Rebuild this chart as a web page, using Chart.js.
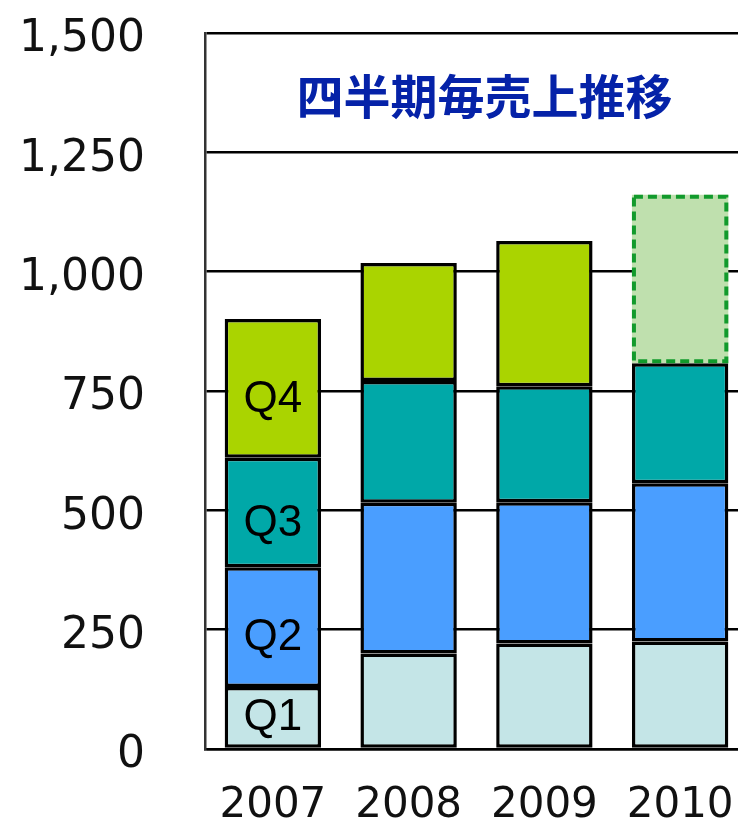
<!DOCTYPE html>
<html>
<head>
<meta charset="utf-8">
<script src="https://cdn.jsdelivr.net/npm/chart.js@4"></script>
<style>
    html, body { margin: 0; padding: 0; background: #fff; overflow: hidden; }
    #wrap { width: 748px; height: 822px; }
</style>
</head>
<body>
<div id="wrap"><canvas id="salesChart" width="748" height="822"></canvas></div>
<script>
// 年度と四半期ごとの売上
const years = ['2007', '2008', '2009', '2010'];
const q1Sales = [130, 200, 221, 225];
const q2Sales = [251, 316, 296, 332];
const q3Sales = [229, 255, 243, 251];
const q4Sales = [291, 247, 304, 353];
const quarterNames = ['Q1', 'Q2', 'Q3', 'Q4'];
const yMax = 1500;
const yStep = 250;
const forecastIndex = 3; // 2010 Q4 は見込み（点線）
const chartTitle = '四半期毎売上推移';

const q4Colors = years.map((y, i) => i === forecastIndex ? '#bfe0ae' : '#aad400');
const q4Borders = years.map((y, i) => i === forecastIndex ? 0 : 3.5);

// 2007 の棒に Q1〜Q4 のラベル、2010 Q4 に点線枠、グラフ内にタイトル
const overlayPlugin = {
    id: 'overlay',
    afterDatasetsDraw(chart) {
        const ctx = chart.ctx;
        ctx.save();

        // 点線の枠
        const fc = chart.getDatasetMeta(3).data[forecastIndex];
        const left = fc.x - fc.width / 2;
        const top = Math.min(fc.y, fc.base);
        const h = Math.abs(fc.base - fc.y);
        ctx.strokeStyle = '#129a2c';
        ctx.lineWidth = 4;
        ctx.setLineDash([9, 5]);
        ctx.strokeRect(left + 2, top + 2, fc.width - 4, h - 4);
        ctx.setLineDash([]);

        // Q ラベル（少し下寄せ）
        ctx.fillStyle = '#000';
        ctx.font = '44px "Liberation Sans", Arial, sans-serif';
        ctx.textAlign = 'center';
        ctx.textBaseline = 'middle';
        quarterNames.forEach((name, i) => {
            const bar = chart.getDatasetMeta(i).data[0];
            const y = Math.min((bar.y + bar.base) / 2 + 11, bar.base - 30);
            ctx.fillText(name, bar.x, y);
        });

        // タイトル
        const area = chart.chartArea;
        ctx.fillStyle = '#0522a8';
        ctx.font = 'bold 47px "Noto Sans CJK JP", sans-serif';
        ctx.fillText(chartTitle, (area.left + area.right) / 2 + 8, 96);
        ctx.restore();
    }
};

new Chart(document.getElementById('salesChart'), {
    type: 'bar',
    data: {
        labels: years,
        datasets: [
            { label: 'Q1', data: q1Sales, backgroundColor: '#c4e5e7', borderColor: '#000', borderWidth: 3.5, borderSkipped: false },
            { label: 'Q2', data: q2Sales, backgroundColor: '#4a9eff', borderColor: '#000', borderWidth: 3.5, borderSkipped: false },
            { label: 'Q3', data: q3Sales, backgroundColor: '#00a8a8', borderColor: '#000', borderWidth: 3.5, borderSkipped: false },
            { label: 'Q4', data: q4Sales, backgroundColor: q4Colors, borderColor: '#000', borderWidth: q4Borders, borderSkipped: false }
        ]
    },
    options: {
        responsive: false,
        animation: false,
        layout: { padding: { top: 33, right: 0, left: 0, bottom: 0 } },
        datasets: {
            bar: { barPercentage: 0.71, categoryPercentage: 1 }
        },
        scales: {
            x: {
                stacked: true,
                grid: { display: false, drawTicks: false },
                border: { display: true, color: '#000', width: 2.5 },
                ticks: {
                    color: '#111',
                    padding: 32,
                    font: { family: '"DejaVu Sans", sans-serif', size: 42 }
                },
                afterFit(scale) {
                    scale.height = 73;
                    scale.paddingLeft = 0;
                    scale.paddingRight = 0;
                }
            },
            y: {
                stacked: true,
                min: 0,
                max: yMax,
                grid: { color: '#000', lineWidth: 2.5, drawTicks: false },
                border: { display: true, color: '#333', width: 2.5 },
                ticks: {
                    stepSize: yStep,
                    color: '#111',
                    padding: 60,
                    labelOffset: 7,
                    font: { family: '"DejaVu Sans", sans-serif', size: 44 },
                    callback: function(value) {
                        return value.toLocaleString('en-US');
                    }
                },
                afterFit(scale) {
                    scale.width = 205;
                    scale.paddingTop = 0;
                    scale.paddingBottom = 0;
                }
            }
        },
        plugins: {
            legend: { display: false },
            tooltip: { enabled: false },
            title: { display: false }
        }
    },
    plugins: [overlayPlugin]
});
</script>
</body>
</html>
